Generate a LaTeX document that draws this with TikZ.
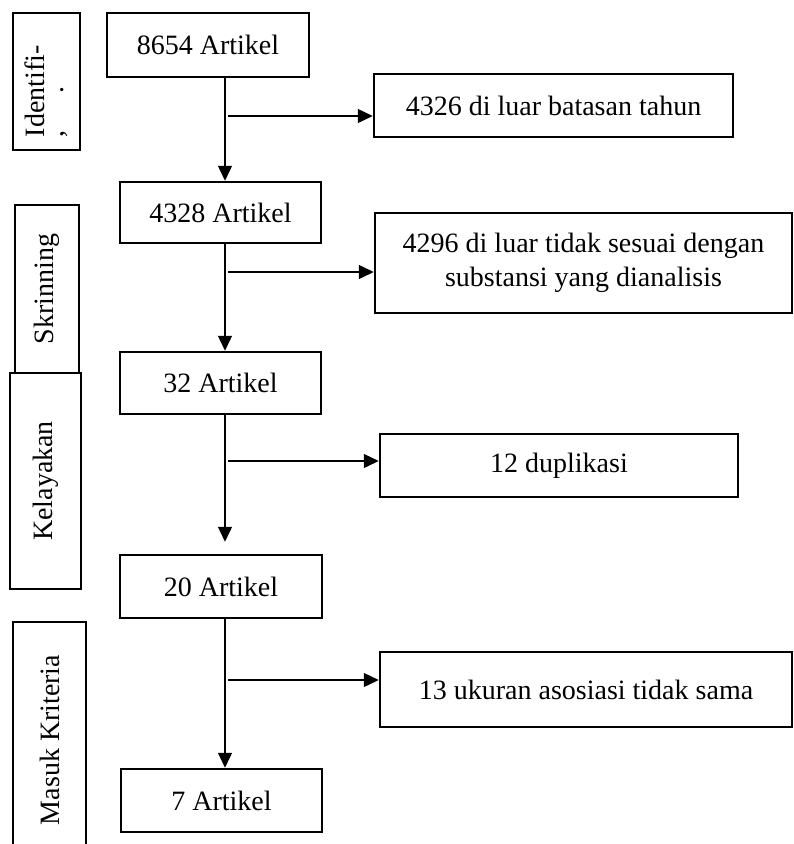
\documentclass[tikz,border=0pt]{standalone}
\usepackage{fontspec}
\setmainfont{Liberation Serif}
\usepackage{tikz}
\usetikzlibrary{arrows.meta}

\begin{document}
\begin{tikzpicture}
  [x=1pt,y=-1pt,
   every node/.style={font=\fontsize{28}{34}\selectfont},
   box/.style={draw,line width=2.5pt,inner sep=0pt,align=center},
   stage/.style={draw,line width=2.5pt,inner sep=0pt,rotate=90},
   arr/.style={line width=1.4pt,-{Triangle[length=15pt,width=14pt]}}]
  \path[clip,use as bounding box] (0,0) rectangle (794,844);
  \node[stage,minimum width=137pt,minimum height=67pt,text width=111pt,align=left]
    (ident) at (46.5,81.5) {Identifi-\\[-15pt],\hspace{1.3em}.};
  \node[stage,minimum width=168pt,minimum height=64pt] (skrin) at (47,289) {Skrinning};
  \node[stage,minimum width=216pt,minimum height=71pt] (layak) at (45.5,481) {Kelayakan};
  \node[stage,minimum width=236pt,minimum height=73pt] (masuk) at (49.5,740) {Masuk Kriteria};
  \node[box,minimum width=202pt,minimum height=64pt] (a) at (208,45) {8654 Artikel};
  \node[box,minimum width=201pt,minimum height=61pt] (b) at (220.5,212.5) {4328 Artikel};
  \node[box,minimum width=201pt,minimum height=62pt] (c) at (220.5,383) {32 Artikel};
  \node[box,minimum width=202pt,minimum height=63pt] (d) at (221,586.5) {20 Artikel};
  \node[box,minimum width=201pt,minimum height=63pt] (e) at (221.5,800.5) {7 Artikel};
  \node[box,minimum width=359pt,minimum height=63pt] (r1) at (553.5,105.5) {4326 di luar batasan tahun};
  \node[box,minimum width=417pt,minimum height=100pt] (r2) at (583.5,263)
    {4296 di luar tidak sesuai dengan\\substansi yang dianalisis};
  \node[box,minimum width=358pt,minimum height=63pt] (r3) at (559,465.5) {12 duplikasi};
  \node[box,minimum width=412pt,minimum height=75pt] (r4) at (586,689.5) {13 ukuran asosiasi tidak sama};
  \coordinate (s) at (225,0);
  \coordinate (j1) at (228,116);
  \coordinate (j2) at (228,272);
  \coordinate (j3) at (228,461);
  \coordinate (j4) at (228,680);
  \draw[arr] (a.south -| s) -- (b.north -| s);
  \draw[arr] (b.south -| s) -- (c.north -| s);
  \draw[arr,shorten >=12pt] (c.south -| s) -- (d.north -| s);
  \draw[arr] (d.south -| s) -- (e.north -| s);
  \draw[arr] (j1) -- (j1 -| r1.west);
  \draw[arr] (j2) -- (j2 -| r2.west);
  \draw[arr] (j3) -- (j3 -| r3.west);
  \draw[arr] (j4) -- (j4 -| r4.west);
\end{tikzpicture}
\end{document}
